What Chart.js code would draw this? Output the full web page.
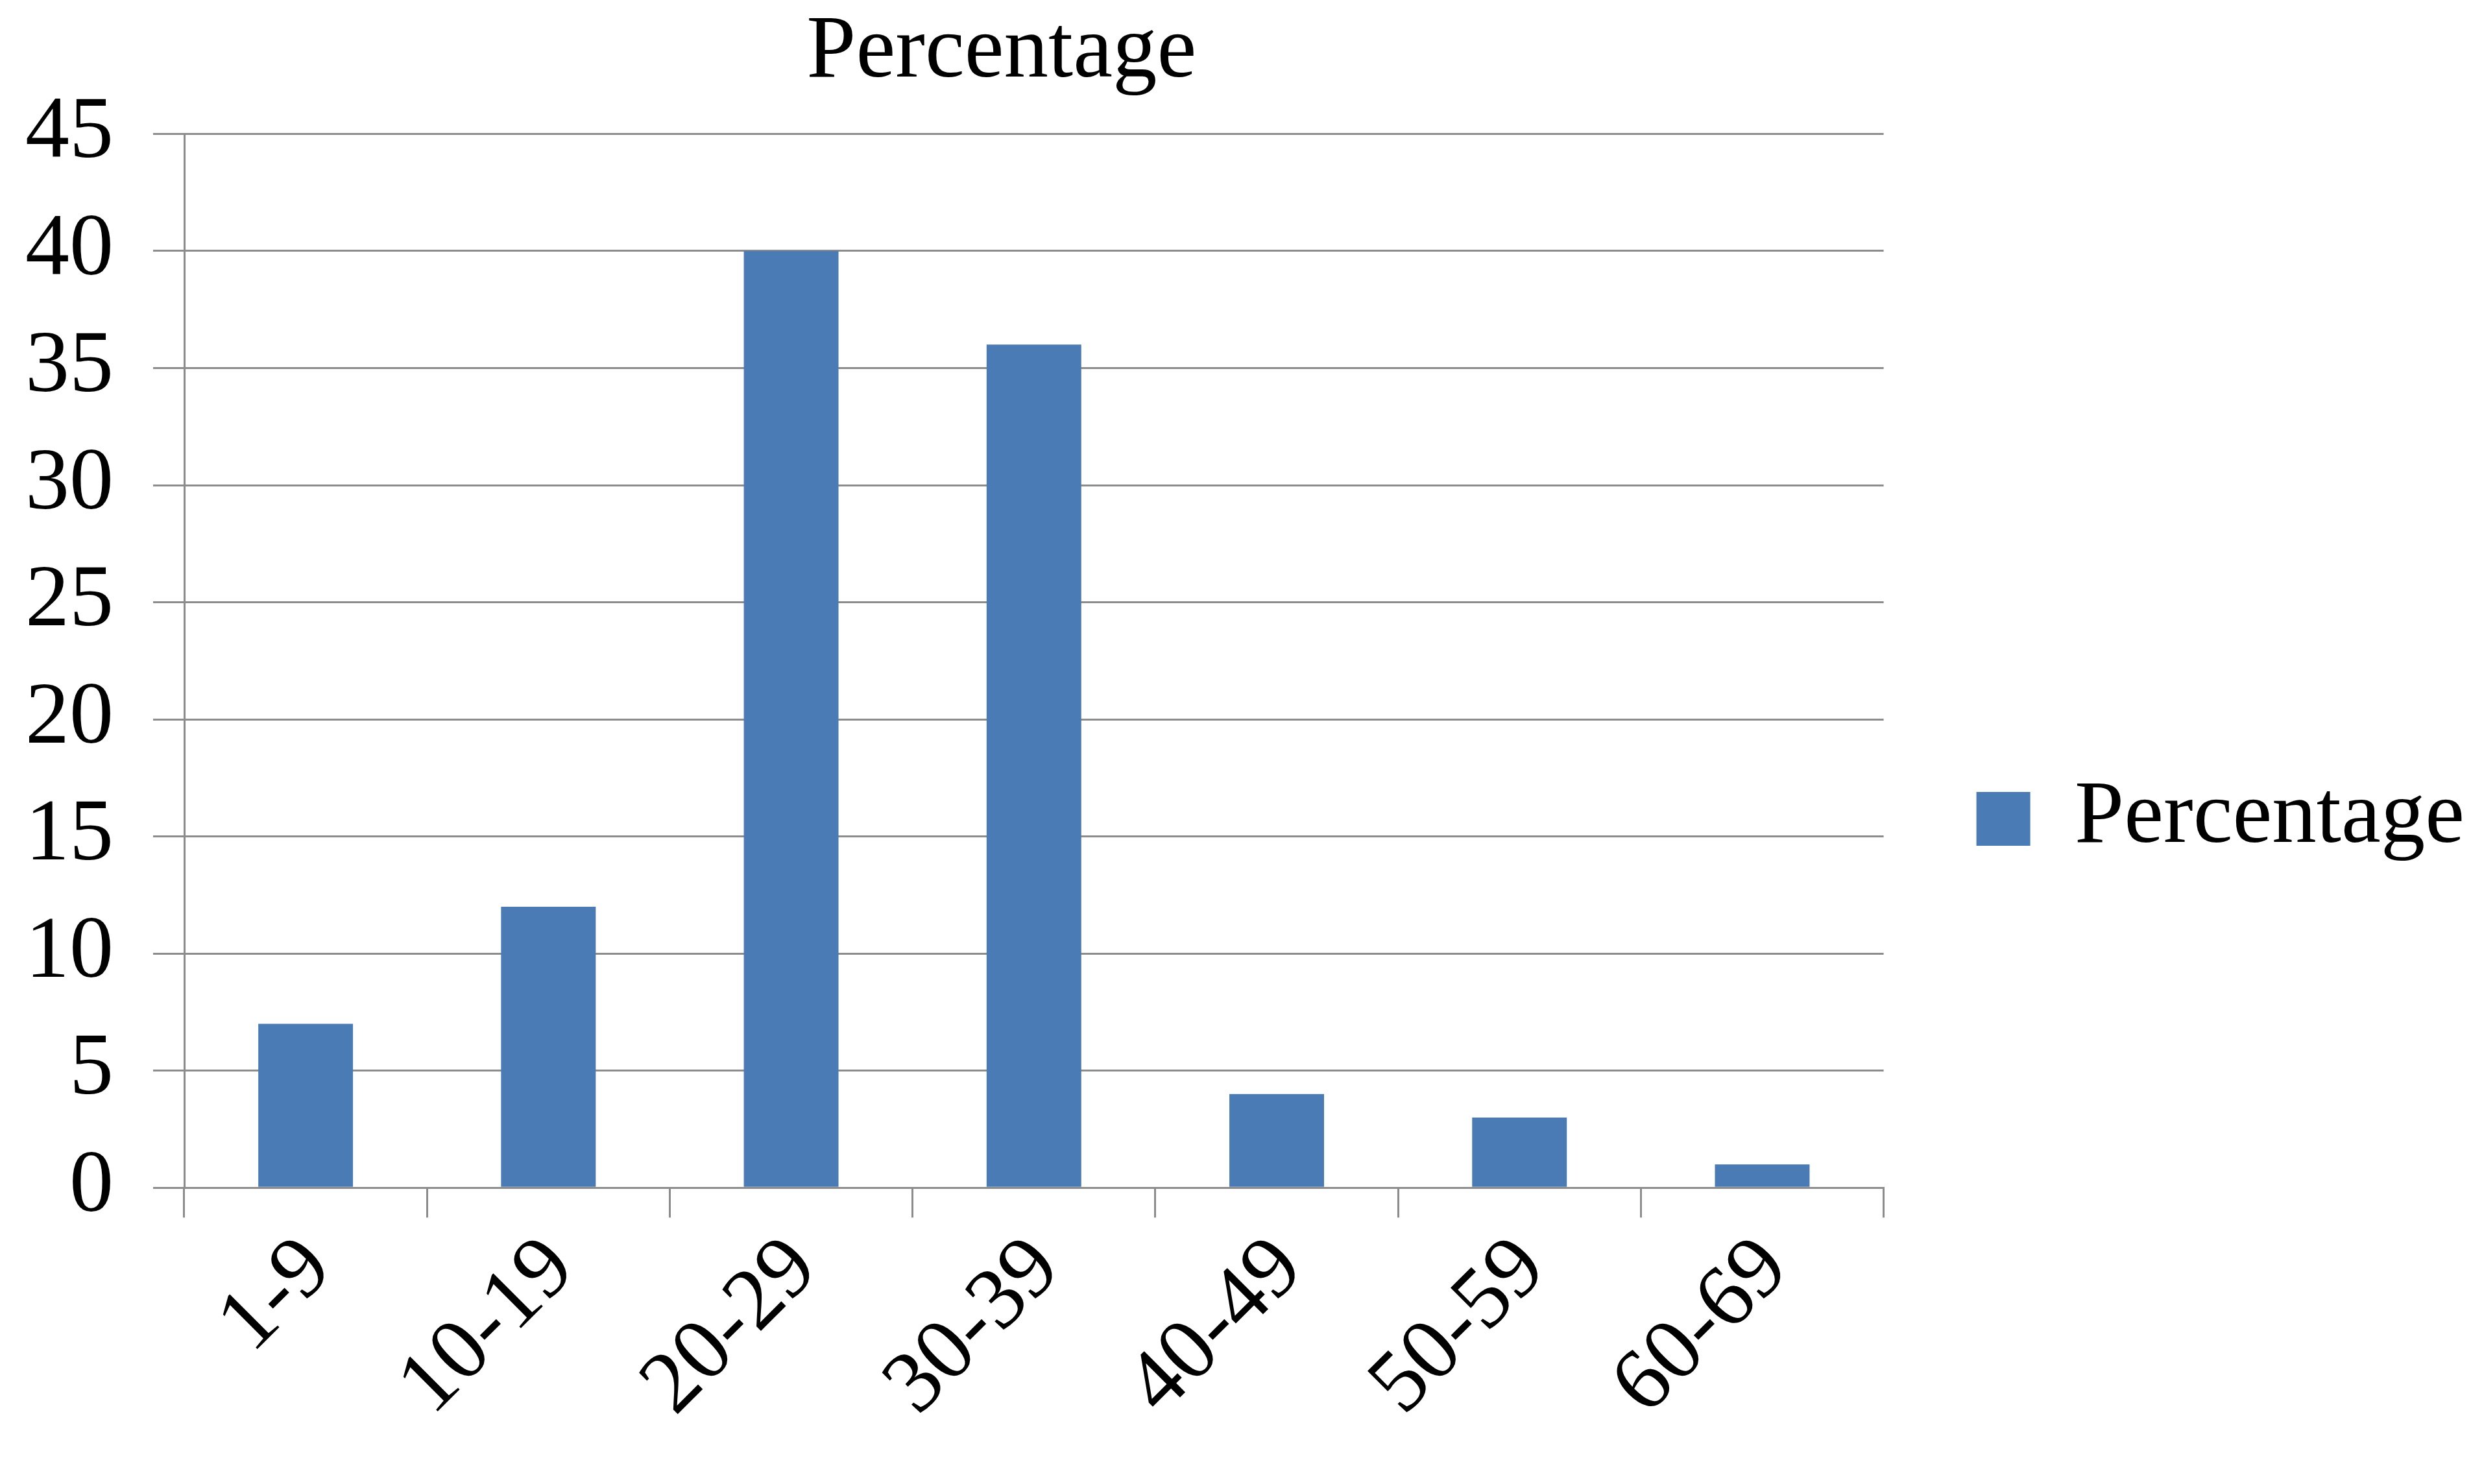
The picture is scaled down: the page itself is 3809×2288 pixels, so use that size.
<!DOCTYPE html>
<html>
<head>
<meta charset="utf-8">
<script src="https://cdn.jsdelivr.net/npm/chart.js@4/dist/chart.umd.min.js"></script>
<style>
  html, body { margin: 0; padding: 0; background: #ffffff; }
  canvas { display: block; }
</style>
</head>
<body>
<canvas id="c" width="3809" height="2288"></canvas>
<script>
const categories = ['1-9', '10-19', '20-29', '30-39', '40-49', '50-59', '60-69'];
const percentage = [7, 12, 40, 36, 4, 3, 1];
const seriesName = 'Percentage';
const chartTitle = 'Percentage';
const yMin = 0, yMax = 45, yStep = 5;

const FONT = '"Liberation Serif", "Times New Roman", serif';
const GRID = '#8c8c8c';

const shiftTitle = {
  id: 'shiftTitle',
  afterLayout(chart) {
    if (chart.titleBlock) {
      chart.titleBlock.left -= 100;
    }
  }
};

new Chart(document.getElementById('c'), {
  type: 'bar',
  data: {
    labels: categories,
    datasets: [{
      label: seriesName,
      data: percentage,
      backgroundColor: '#4b7bb4',
      borderWidth: 0,
      barPercentage: 0.39,
      categoryPercentage: 1.0
    }]
  },
  options: {
    responsive: false,
    devicePixelRatio: 1,
    animation: false,
    layout: { padding: { left: 39, top: 0, right: 0, bottom: 71 } },
    plugins: {
      title: {
        display: true,
        text: chartTitle,
        fullSize: false,
        color: '#000000',
        font: { family: FONT, size: 137, weight: 'normal', lineHeight: 1.2 },
        padding: { top: 0, bottom: 42 }
      },
      legend: {
        display: true,
        position: 'right',
        align: 'center',
        title: { display: true, text: '', font: { size: 10, lineHeight: 1.2 }, padding: { top: 296, bottom: 0 } },
        labels: {
          color: '#000000',
          font: { family: FONT, size: 137 },
          boxWidth: 83,
          boxHeight: 83,
          padding: 143
        }
      },
      tooltip: { enabled: false }
    },
    scales: {
      x: {
        offset: true,
        afterFit(scale) { scale.paddingLeft = 0; scale.paddingRight = 0; },
        grid: {
          display: true,
          drawOnChartArea: false,
          drawTicks: true,
          tickLength: 46,
          color: GRID,
          lineWidth: 3,
          offset: true
        },
        border: { display: true, color: GRID, width: 3 },
        ticks: {
          color: '#000000',
          font: { family: FONT, size: 136 },
          minRotation: 45,
          maxRotation: 45,
          padding: 0,
          labelOffset: 20,
          autoSkip: false
        }
      },
      y: {
        min: yMin,
        max: yMax,
        afterFit(scale) { scale.width -= scale.options.ticks.padding; },
        grid: {
          display: true,
          drawOnChartArea: true,
          drawTicks: true,
          tickLength: 48,
          color: GRID,
          lineWidth: 3
        },
        border: { display: true, color: GRID, width: 3 },
        ticks: {
          stepSize: yStep,
          color: '#000000',
          font: { family: FONT, size: 136 },
          padding: 61
        }
      }
    }
  },
  plugins: [shiftTitle]
});
</script>
</body>
</html>
